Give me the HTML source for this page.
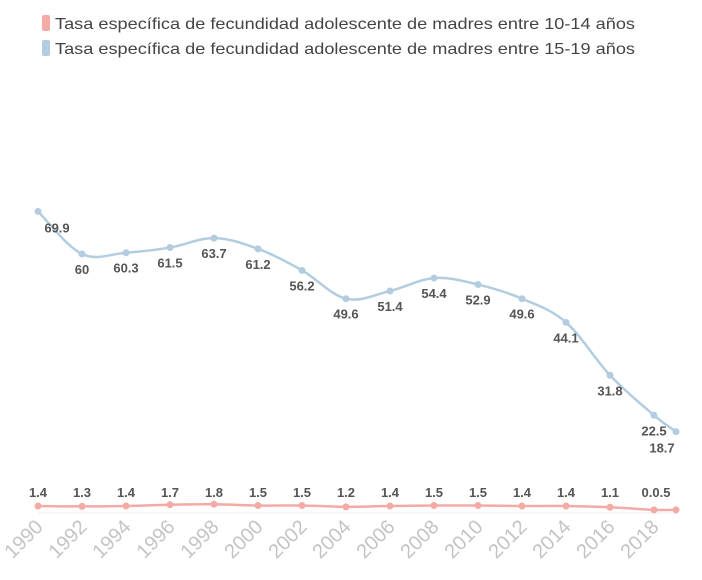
<!DOCTYPE html>
<html><head><meta charset="utf-8"><style>
body{margin:0;background:#fff;width:702px;height:575px;overflow:hidden;font-family:"Liberation Sans",sans-serif}
</style></head><body>
<svg id="s" width="702" height="575" xmlns="http://www.w3.org/2000/svg">
<rect x="42" y="15" width="8" height="16" rx="2" fill="#f4aaa5"/>
<text x="55" y="29" font-size="16" fill="#444" textLength="580" lengthAdjust="spacingAndGlyphs">Tasa específica de fecundidad adolescente de madres entre 10-14 años</text>
<rect x="42" y="40" width="8" height="16" rx="2" fill="#b3cde0"/>
<text x="55" y="54" font-size="16" fill="#444" textLength="580" lengthAdjust="spacingAndGlyphs">Tasa específica de fecundidad adolescente de madres entre 15-19 años</text>
<line x1="38" y1="513" x2="678" y2="513" stroke="#eee" stroke-width="1"/>
</svg>
<script>
var s=document.getElementById('s'),NS='http://www.w3.org/2000/svg';
var b=[69.9,60,60.3,61.5,63.7,61.2,56.2,49.6,51.4,54.4,52.9,49.6,44.1,31.8,22.5,18.7];
var r=[1.4,1.3,1.4,1.7,1.8,1.5,1.5,1.2,1.4,1.5,1.5,1.4,1.4,1.1,0.5,0.5];
var rl=['1.4','1.3','1.4','1.7','1.8','1.5','1.5','1.2','1.4','1.5','1.5','1.4','1.4','1.1','0.0.5',''];
function X(i){return i<15?38+i*44:676}
function Y(v){return 512-v*4.3}
function path(a){var p=a.map(function(v,i){return[X(i),Y(v)]});var d='M'+p[0];
for(var i=0;i<p.length-1;i++){var p0=p[i-1]||p[i],p1=p[i],p2=p[i+1],p3=p[i+2]||p2;var t=0.17;
d+=' C'+(p1[0]+(p2[0]-p0[0])*t)+','+(p1[1]+(p2[1]-p0[1])*t)+' '+(p2[0]-(p3[0]-p1[0])*t)+','+(p2[1]-(p3[1]-p1[1])*t)+' '+p2;}return d}
function el(n,a,t){var e=document.createElementNS(NS,n);for(var k in a)e.setAttribute(k,a[k]);if(t)e.textContent=t;s.appendChild(e);return e}
el('path',{d:path(b),fill:'none',stroke:'#b3cde0','stroke-width':2.5});
el('path',{d:path(r),fill:'none',stroke:'#f4aaa5','stroke-width':2.5});
b.forEach(function(v,i){el('circle',{cx:X(i),cy:Y(v),r:3.5,fill:'#b3cde0'});
var lx=X(i),ly=Y(v)+20;if(i==15){lx=662;ly=Y(v)+21}if(i==0){lx=57;ly=Y(v)+21}
el('text',{x:lx,y:ly,'font-size':13,'font-weight':'bold',fill:'#555','text-anchor':'middle'},String(v))});
r.forEach(function(v,i){el('circle',{cx:X(i),cy:Y(v),r:3.5,fill:'#f4aaa5'});
if(rl[i])el('text',{x:X(i)+(i==14?2:0),y:497,'font-size':13,'font-weight':'bold',fill:'#555','text-anchor':'middle'},rl[i])});
for(var i=0;i<15;i++){var x=X(i)+6,y=528;el('text',{x:x,y:y,'font-size':20,fill:'#c4c4c4','text-anchor':'end',transform:'rotate(-45 '+x+' '+y+')'},String(1990+2*i))}
</script>
</body></html>
